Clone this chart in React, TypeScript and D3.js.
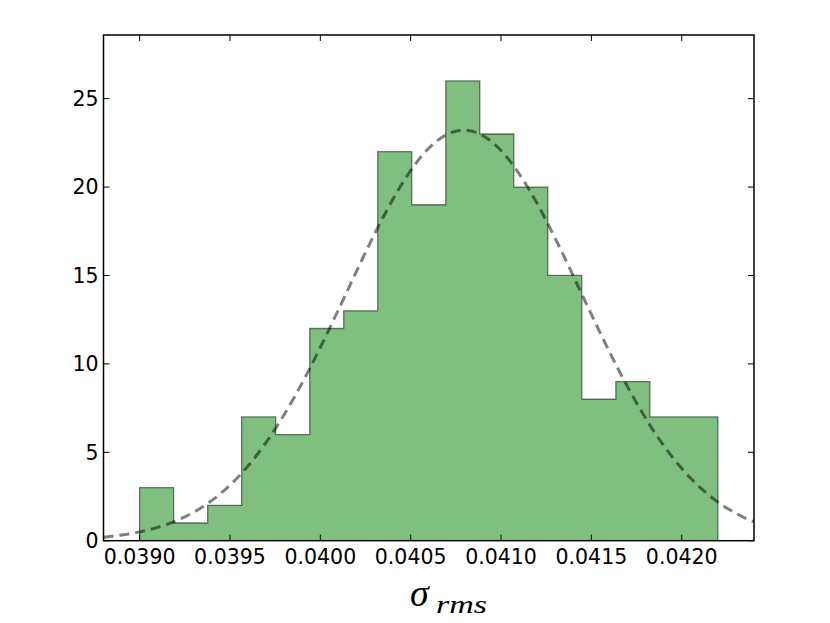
import React from "react";
import * as d3 from "d3";

const counts = [3, 1, 2, 7, 6, 12, 13, 22, 19, 26, 23, 20, 15, 8, 9, 7, 7];
const binStart = 0.039;
const binEnd = 0.0422;
const xTicks = [0.039, 0.0395, 0.04, 0.0405, 0.041, 0.0415, 0.042];
const yTicks = [0, 5, 10, 15, 20, 25];
const fitMu = 0.040794;
const fitSigma = 0.000647;
const xDomain = [0.0388, 0.0424];
const yDomain = [0, 28.6];

const W = 830;
const H = 623;
const L = 103.5;
const R = 754;
const T = 35;
const B = 540.7;

export default function App() {
  const x = d3.scaleLinear().domain(xDomain).range([L, R]);
  const y = d3.scaleLinear().domain(yDomain).range([B, T]);
  const n = counts.length;
  const bw = (binEnd - binStart) / n;
  const total = d3.sum(counts);

  // step-filled histogram outline
  const pts: [number, number][] = [[binStart, 0]];
  counts.forEach((c, i) => {
    pts.push([binStart + i * bw, c]);
    pts.push([binStart + (i + 1) * bw, c]);
  });
  pts.push([binEnd, 0]);
  const histPath =
    "M" + pts.map(([a, b]) => `${x(a)},${y(b)}`).join("L") + "Z";

  const amp = (total * bw) / (fitSigma * Math.sqrt(2 * Math.PI));
  const xs = d3.range(0, 301).map((i) => xDomain[0] + ((xDomain[1] - xDomain[0]) * i) / 300);
  const fitLine = d3
    .line<number>()
    .x((v) => x(v))
    .y((v) => y(amp * Math.exp(-0.5 * ((v - fitMu) / fitSigma) ** 2)));

  const tickLen = 6;
  const fmt = d3.format(".4f");

  return (
    <svg
      width={W}
      height={H}
      style={{ position: "absolute", left: 0, top: 0, background: "#fff" }}
      fontFamily="DejaVu Sans"
    >
      <defs>
        <clipPath id="plotclip">
          <rect x={L} y={T} width={R - L} height={B - T} />
        </clipPath>
      </defs>
      <g clipPath="url(#plotclip)">
        <path d={histPath} fill="#008000" fillOpacity={0.5} stroke="#000" strokeOpacity={0.5} strokeWidth={1.3} />
        <path
          d={fitLine(xs) || ""}
          fill="none"
          stroke="#000"
          strokeOpacity={0.5}
          strokeWidth={3}
          strokeDasharray="10,6"
        />
      </g>
      {xTicks.map((t) => (
        <g key={"x" + t}>
          <line x1={x(t)} x2={x(t)} y1={B} y2={B - tickLen} stroke="#000" strokeWidth={1} />
          <line x1={x(t)} x2={x(t)} y1={T} y2={T + tickLen} stroke="#000" strokeWidth={1} />
          <text x={x(t)} y={B + 23} textAnchor="middle" fontSize={20.5} fill="#000">
            {fmt(t)}
          </text>
        </g>
      ))}
      {yTicks.map((t) => (
        <g key={"y" + t}>
          <line x1={L} x2={L + tickLen} y1={y(t)} y2={y(t)} stroke="#000" strokeWidth={1} />
          <line x1={R} x2={R - tickLen} y1={y(t)} y2={y(t)} stroke="#000" strokeWidth={1} />
          <text x={L - 5} y={y(t)} dy="0.36em" textAnchor="end" fontSize={20.5} fill="#000">
            {t}
          </text>
        </g>
      ))}
      <rect x={L} y={T} width={R - L} height={B - T} fill="none" stroke="#000" strokeWidth={1.5} />
      <text x={410} y={606} fontFamily="Liberation Serif" fontStyle="italic" fontSize={38} fill="#000">
        σ
      </text>
      <text
        x={436}
        y={613}
        fontFamily="Liberation Serif"
        fontStyle="italic"
        fontSize={26}
        fill="#000"
        textLength={51}
        lengthAdjust="spacingAndGlyphs"
      >
        rms
      </text>
    </svg>
  );
}
